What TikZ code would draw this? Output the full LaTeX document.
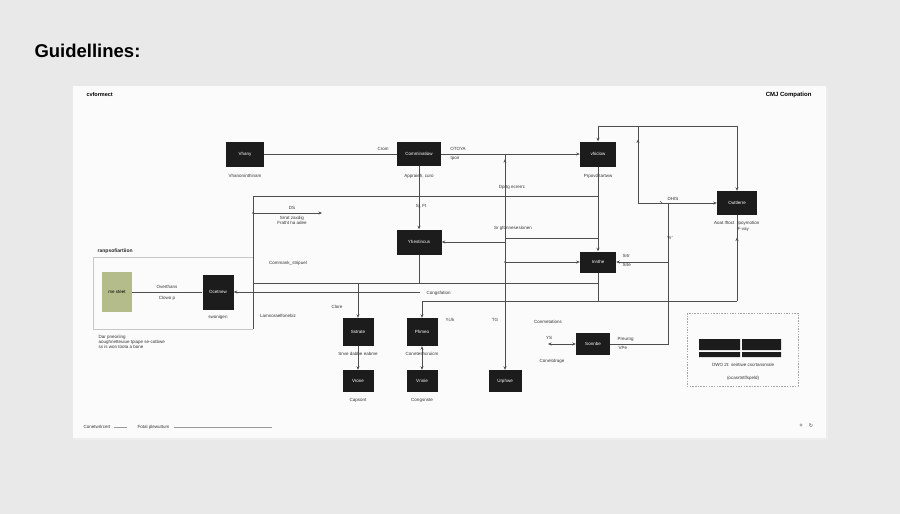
\documentclass[tikz,border=0pt]{standalone}
\usepackage{fontspec}
\setmainfont{Liberation Sans}
\newfontfamily\symfont{DejaVu Sans}
\usetikzlibrary{arrows.meta,decorations.markings}

\definecolor{pagebg}{HTML}{E9E9E9}
\definecolor{panelbg}{HTML}{FBFBFC}
\definecolor{boxfill}{HTML}{1C1C1C}
\definecolor{wiregray}{HTML}{4E4E4E}
\definecolor{moss}{HTML}{B4BC8C}

\begin{document}
\begin{tikzpicture}[x=1pt,y=-1pt,>={Stealth[length=3.5pt,width=3pt]},
    blk/.style = {fill=boxfill, text=white, inner sep=0pt, align=center,
        font=\fontsize{4.5}{5}\selectfont},
    lbl/.style = {font=\fontsize{4.5}{5}\selectfont, text=black!80,
        inner sep=0.5pt, align=center},
    wire/.style = {draw=wiregray, line width=0.7pt},
    fwdat/.style = {postaction=decorate, decoration={markings,
        mark=at position #1 with {\arrow{>}}}},
    backat/.style = {postaction=decorate, decoration={markings,
        mark=at position #1 with {\arrow{<}}}}]
    % page and panel
    \fill[pagebg] (0,0) rectangle (900,514);
    \fill[black!7] (74,88) rectangle (828,440);
    \fill[panelbg] (73,86) rectangle (826,438);
    \node[anchor=west, font=\fontsize{18.5}{21}\selectfont\bfseries] (title) at (31,51) {Guidellines:};
    \node[anchor=west, font=\fontsize{5.5}{6}\selectfont\bfseries] (hdl) at (83,95) {cvformect};
    \node[anchor=east, font=\fontsize{6}{7}\selectfont\bfseries] (hdr) at (815,95) {CMJ Compation};

    % boxes
    \node[blk, minimum width=38, minimum height=25] (vhany) at (245,154) {Vhany};
    \node[blk, minimum width=44, minimum height=24] (comm) at (419,154) {Comminatiow};
    \node[blk, minimum width=36, minimum height=25] (vhic) at (598,154) {vhiclow};
    \node[blk, minimum width=40, minimum height=24] (outt) at (737,203) {Outtlerre};
    \node[blk, minimum width=45, minimum height=25] (yhes) at (419,242) {Yhestincus};
    \node[blk, minimum width=36, minimum height=21] (innt) at (598,262) {Innthe};
    \node[blk, fill=moss, text=black, minimum width=30, minimum height=40] (meet) at (117,292) {me steet};
    \node[blk, minimum width=31, minimum height=35] (ocet) at (218,292) {Ocetnew};
    \node[blk, minimum width=31, minimum height=28] (sstr) at (358,332) {Sstrate};
    \node[blk, minimum width=31, minimum height=28] (phme) at (422,332) {Phmeo};
    \node[blk, minimum width=31, minimum height=22] (vron) at (358,381) {Vrone};
    \node[blk, minimum width=31, minimum height=22] (vnni) at (422,381) {Vnnie};
    \node[blk, minimum width=33, minimum height=22] (urph) at (505,381) {Urphwe};
    \node[blk, minimum width=34, minimum height=22] (sonn) at (593,344) {Sonnbe};

    % left frame and dashed legend
    \draw[black!22, line width=0.5pt] (253,257) -- (93,257) -- (93,329) -- (253,329);
    \node[anchor=west, lbl, font=\fontsize{5}{6}\selectfont\bfseries, text=black!85] (frt) at (97,251) {ranpsofiartiion};
    \draw[black!35, line width=0.5pt, dash pattern=on 1.5pt off 1.2pt] (687,313) rectangle (798,386);
    \fill[boxfill] (699,339) rectangle (740,350) (742,339) rectangle (781,350)
        (699,352) rectangle (740,357) (742,352) rectangle (781,357);

    % coordinates
    \coordinate (j1) at (505,154);
    \coordinate (l1) at (253,196);
    \coordinate (l2) at (598,196);
    \coordinate (l3) at (253,329);
    \coordinate (d1) at (253,213);
    \coordinate (d2) at (322,213);
    \coordinate (s1) at (598,238);
    \coordinate (s2) at (505,238);
    \coordinate (s3) at (505,242);
    \coordinate (i1) at (505,262);
    \coordinate (h1) at (253,283);
    \coordinate (h2) at (598,283);
    \coordinate (h3) at (358,283);
    \coordinate (y1) at (419,283);
    \coordinate (c1) at (420,292);
    \coordinate (b1) at (598,301);
    \coordinate (b2) at (422,301);
    \coordinate (b3) at (737,301);
    \coordinate (t1) at (598,126);
    \coordinate (t2) at (737,126);
    \coordinate (t4) at (638,126);
    \coordinate (t3) at (638,203);
    \coordinate (r1) at (668,344);
    \coordinate (r2) at (668,203);
    \coordinate (r3) at (668,262);
    \coordinate (y5) at (548,344);

    % connectors
    \draw[wire] (vhany) -- (comm);
    \draw[wire,->] (comm) -- (vhic);
    \draw[wire,->,backat=0.04] (j1) -- (urph);
    \draw[wire] (l1) -- (l2);
    \draw[wire] (l1) -- (l3);
    \draw[wire,->] (d1) -- (d2);
    \fill[wiregray] (d1) circle (1pt);
    \draw[wire,->] (vhic) -- (innt);
    \draw[wire] (s1) -- (s2);
    \draw[wire,->] (s3) -- (yhes);
    \draw[wire,->] (comm) -- (yhes);
    \draw[wire,->] (i1) -- (innt);
    \fill[wiregray] (i1) circle (1pt);
    \draw[wire] (h1) -- (h2);
    \draw[wire] (yhes) -- (y1);
    \draw[wire,->] (h3) -- (sstr);
    \draw[wire,->] (c1) -- (ocet);
    \draw[wire] (meet) -- (ocet);
    \draw[wire] (innt) -- (b1) -- (b3);
    \draw[wire,->] (b1) -- (b2) -- (phme);
    \draw[wire,fwdat=0.74] (b3) -- (outt);
    \draw[wire] (t1) -- (t2);
    \draw[wire,->] (t1) -- (vhic);
    \draw[wire,->] (t2) -- (outt);
    \draw[wire,backat=0.22] (t4) -- (t3);
    \draw[wire,->] (t3) -- (outt);
    \draw[wire] (sonn) -- (r1) -- (r2);
    \draw[wire,->] (r3) -- (innt);
    \draw[wire,<->] (y5) -- (sonn);
    \draw[wire,->] (sstr) -- (vron);
    \draw[wire,<->] (phme) -- (vnni);
    \draw[wire] (660,201) -- (662,203);

    % labels
    \node[lbl] (lvh) at (245,176) {Vhanoninthinam};
    \node[lbl] (lcm) at (419,176) {Appraieh, curo};
    \node[lbl] (lcr) at (383,149) {Crom};
    \node[lbl] (lot) at (458,149) {OTOYA};
    \node[lbl] (ltp) at (455,158) {tpoir};
    \node[lbl] (lvc) at (598,176) {Prpovd tartww};
    \node[lbl, anchor=east] (lao) at (735,223) {Aoat Iftoct};
    \node[lbl, anchor=west] (llp) at (737,223) {lpoymotion};
    \node[lbl, anchor=west] (lfv) at (737,229) {F-vay};
    \node[lbl] (ldp) at (512,187) {Dprtg ecrerrc};
    \node[lbl] (lsr) at (513,228) {Sr gfonnesesionen};
    \node[lbl] (lsj) at (421,206) {Sj, Ft};
    \node[lbl] (lds) at (292,208) {DS};
    \node[lbl] (lsz) at (292,218) {Srrat zaxdig};
    \node[lbl] (lfh) at (292,223) {Fratht ha adee};
    \node[lbl] (lck) at (288,263) {Commank\_stripuel};
    \node[lbl] (llm) at (278,316) {Lamnoraelfonebiz};
    \node[lbl] (lcl) at (337,307) {Clore};
    \node[lbl] (lov) at (167,287) {Overthans};
    \node[lbl] (lcw) at (167,298) {Clowo p};
    \node[lbl] (lsw) at (218,317) {swonigen};
    \node[lbl, anchor=west] (lcg) at (426,293) {Congsfation};
    \node[lbl] (lsn) at (358,354) {Snve dabbe eabme};
    \node[lbl] (lcn) at (422,354) {Coneteshcruicm};
    \node[lbl] (lcp) at (358,400) {Capsont};
    \node[lbl] (lcs) at (422,400) {Congsnste};
    \node[lbl] (lyc) at (450,320) {Yc/k};
    \node[lbl] (ltg) at (495,320) {TG};
    \node[lbl] (lcmt) at (548,322) {Conmetations};
    \node[lbl, anchor=west] (lst) at (622,256) {Srtr};
    \node[lbl, anchor=west] (lse) at (622,265) {Srte};
    \node[lbl, anchor=west] (lpr) at (617,339) {Preurng};
    \node[lbl, anchor=west] (lvp) at (618,348) {VPe};
    \node[lbl] (lys) at (549,338) {YS};
    \node[lbl] (lco) at (552,361) {Conelotrage};
    \node[lbl] (ldh) at (673,199) {DHIS};
    \node[lbl] (lvr) at (670,238) {Vr'};
    \node[lbl, anchor=west, align=left] (ldar) at (98,342) {Dar pneoriing\\aoughnetteuiue tpiape se-cotbwe\\ss is won toota a bone};
    \node[lbl] (low) at (743,365) {OWO 2t: seirtiwe cscrtansmale};
    \node[lbl] (loc) at (743,378) {(ocasrtntlfspeld)};

    % footer
    \node[lbl, anchor=west] (fcn) at (83,427) {Conetwrlrcert};
    \node[lbl, anchor=west] (ffp) at (137,427) {Fotal plewuttum};
    \draw[black!40, line width=0.4pt] (fcn.east) ++(3,0) -- ++(13,0);
    \draw[black!40, line width=0.4pt] (ffp.east) ++(4,0) -- (272,427);
    \node[lbl, font=\fontsize{6}{7}\selectfont] (fpl) at (801,426) {+};
    \node[lbl, font=\fontsize{5}{6}\selectfont\symfont] (frf) at (811,426) {↻};
\end{tikzpicture}
\end{document}
